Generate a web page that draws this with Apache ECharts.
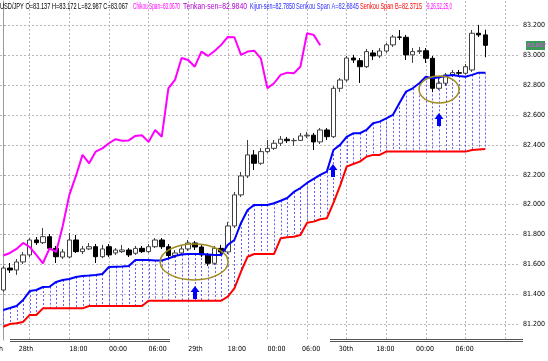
<!DOCTYPE html>
<html><head><meta charset="utf-8">
<script src="https://cdn.jsdelivr.net/npm/echarts@6/dist/echarts.min.js"></script>
<style>html,body{margin:0;padding:0;background:#fff;overflow:hidden}#c{width:548px;height:361px}</style>
</head><body><div id="c"></div>
<script>
// ---- data (USD/JPY, hourly) ----
const opens  = [81.428,81.575,81.562,81.616,81.663,81.763,81.745,81.785,81.707,81.649,81.649,81.763,81.685,81.703,81.718,81.651,81.718,81.676,81.685,81.696,81.674,81.707,81.685,81.718,81.763,81.718,81.659,81.676,81.703,81.743,81.716,81.663,81.607,81.707,81.683,81.857,82.065,82.192,82.333,82.277,82.355,82.377,82.411,82.438,82.428,82.430,82.460,82.465,82.420,82.500,82.455,82.779,82.835,82.982,82.964,82.924,83.016,82.996,83.029,83.070,83.123,83.121,83.003,83.025,83.031,82.980,82.779,82.813,82.869,82.884,82.880,82.902,83.148,83.137];
const closes = [81.575,81.562,81.616,81.663,81.763,81.745,81.785,81.707,81.651,81.683,81.763,81.685,81.703,81.718,81.651,81.703,81.663,81.696,81.696,81.663,81.707,81.685,81.718,81.763,81.718,81.659,81.676,81.703,81.743,81.716,81.663,81.607,81.707,81.683,81.857,82.065,82.192,82.333,82.277,82.355,82.377,82.411,82.438,82.428,82.430,82.460,82.465,82.420,82.500,82.455,82.779,82.835,82.982,82.969,82.924,83.025,82.996,83.029,83.070,83.123,83.121,83.003,83.025,83.031,82.980,82.779,82.813,82.869,82.884,82.880,82.924,83.148,83.137,83.067];
const highs  = [81.589,81.609,81.636,81.683,81.776,81.783,81.843,81.803,81.723,81.703,81.810,81.797,81.723,81.743,81.736,81.730,81.736,81.709,81.730,81.709,81.723,81.723,81.736,81.776,81.776,81.736,81.696,81.730,81.763,81.756,81.730,81.676,81.723,81.730,81.884,82.085,82.219,82.433,82.366,82.379,82.433,82.433,82.460,82.453,82.446,82.480,82.487,82.480,82.513,82.513,82.795,82.848,82.996,83.003,82.982,83.043,83.036,83.049,83.083,83.137,83.170,83.137,83.049,83.056,83.049,82.996,82.848,82.882,82.902,82.902,82.942,83.170,83.204,83.172];
const lows   = [81.415,81.542,81.529,81.602,81.649,81.730,81.736,81.696,81.609,81.636,81.642,81.676,81.669,81.696,81.609,81.642,81.649,81.663,81.676,81.649,81.663,81.676,81.676,81.709,81.703,81.642,81.642,81.663,81.689,81.696,81.649,81.589,81.596,81.669,81.669,81.843,82.051,82.178,82.232,82.266,82.346,82.366,82.393,82.413,82.393,82.426,82.446,82.366,82.406,82.433,82.446,82.755,82.822,82.949,82.815,82.915,82.969,82.982,83.016,83.056,83.103,82.969,82.949,83.009,82.949,82.755,82.768,82.795,82.855,82.862,82.869,82.889,83.123,82.987];
const senkouA = [81.294,81.307,81.321,81.361,81.421,81.428,81.448,81.450,81.482,81.495,81.502,81.515,81.522,81.525,81.529,81.535,81.582,81.584,81.585,81.589,81.629,81.629,81.629,81.626,81.626,81.639,81.656,81.666,81.669,81.669,81.669,81.666,81.663,81.663,81.730,81.763,81.877,81.964,81.998,81.998,81.998,82.009,82.026,82.044,82.085,82.111,82.145,82.172,82.199,82.221,82.366,82.400,82.453,82.478,82.478,82.500,82.545,82.556,82.578,82.601,82.681,82.757,82.779,82.813,82.857,82.846,82.853,82.862,82.869,82.862,82.857,82.869,82.884,82.884];
const senkouB = [81.182,81.200,81.205,81.214,81.261,81.261,81.305,81.305,81.305,81.305,81.305,81.305,81.305,81.321,81.321,81.321,81.321,81.321,81.321,81.321,81.321,81.321,81.356,81.356,81.356,81.356,81.356,81.356,81.356,81.356,81.356,81.356,81.356,81.356,81.383,81.439,81.551,81.651,81.669,81.669,81.669,81.669,81.774,81.781,81.785,81.797,81.879,81.886,81.902,81.908,82.011,82.125,82.254,82.272,82.288,82.321,82.333,82.333,82.355,82.355,82.355,82.355,82.355,82.355,82.355,82.355,82.355,82.355,82.355,82.355,82.355,82.366,82.369,82.372];
const chikou = [81.659,81.676,81.703,81.743,81.716,81.663,81.607,81.707,81.683,81.857,82.065,82.192,82.333,82.277,82.355,82.377,82.411,82.438,82.428,82.430,82.460,82.465,82.420,82.500,82.455,82.779,82.835,82.982,82.969,82.924,83.025,82.996,83.029,83.070,83.123,83.121,83.003,83.025,83.031,82.980,82.779,82.813,82.869,82.884,82.880,82.924,83.148,83.137,83.067];
const yTicks = [81.2,81.4,81.6,81.8,82.0,82.2,82.4,82.6,82.8,83.0,83.2];
const xLabelPos  = [2.35,10,16,22,28,34,40,45.25,50.8,56.5,62.5,68.5];
const xLabelText = ['28th','18:00','00:00','06:00','29th','18:00','00:00','06:00','30th','18:00','00:00','06:00'];
const xGridPos = [4,10,16,22,28,34,40,46,52,58,64,70,76];
const ellipseCenters = [[28.9,81.616],[66,82.771]];
const arrowTips = [[29,81.455],[50,82.272],[66,82.614]];
const headerParts = [
  ['USD/JPY O=83.137 H=83.172 L=82.987 C=83.067','#000000'],
  ['Chikou Span=83.0670','#ff00ff'],
  ['Tenkan-sen=82.9840','#b000d0'],
  ['Kijun-sen=82.7850','#2020ff'],
  ['Senkou Span A=82.8845','#3030ff'],
  ['Senkou Span B=82.3715','#ff0000'],
  ['9,26,52,25,0','#ff00ff']
];

// ---- layout constants ----
const headerBoxes = [[0,128],[133,180],[183,247],[250,295],[296,359],[360,422],[427,452]];
const ellipseRadii = [[34,18],[20,13.5]];

const chart = echarts.init(document.getElementById('c'), null, {renderer:'canvas'});
const N = closes.length;
const candleData = opens.map((o,i)=>[i,o,closes[i],lows[i],highs[i]]);
const cloudData = senkouA.map((a,i)=>[i,a,senkouB[i]]);
const pair = arr => arr.map((v,i)=>[i,v]);
const LABEL_FONT = '"Liberation Sans Narrow","DejaVu Sans Condensed","Liberation Sans",sans-serif';

chart.setOption({
  animation:false,
  backgroundColor:'#ffffff',
  grid:{left:0,right:23,top:1,bottom:21,containLabel:false},
  xAxis:{type:'value',min:-0.5,max:78.25,
    axisLine:{show:false},
    axisTick:{show:false,customValues:xGridPos},
    splitLine:{show:true,lineStyle:{color:'#bdb5bd',type:[2,2],width:1}},
    axisLabel:{customValues:xLabelPos,align:'left',margin:6,fontSize:7,color:'#000',fontFamily:LABEL_FONT,
      formatter:(v)=>{const k=xLabelPos.findIndex(p=>Math.abs(p-v)<1e-6);return k>=0?xLabelText[k]:'';}}
  },
  yAxis:{type:'value',position:'right',min:81.093,max:83.364,scale:true,
    axisLine:{show:true,lineStyle:{color:'#9a9a9a',width:1}},
    axisTick:{show:true,length:2,customValues:yTicks,lineStyle:{color:'#9a9a9a'}},
    splitLine:{show:true,lineStyle:{color:'#bdb5bd',type:[2,2],width:1}},
    axisLabel:{customValues:yTicks,margin:3,fontSize:7,color:'#000',fontFamily:LABEL_FONT,
      formatter:v=>v.toFixed(3)}
  },
  series:[
    {type:'custom',name:'cloud',data:cloudData,z:1,silent:true,
      renderItem:(params,api)=>{
        const i=api.value(0);
        const a=api.coord([i,api.value(1)]);
        const b=api.coord([i,api.value(2)]);
        const x=Math.round(a[0])+0.5;
        return {type:'line',shape:{x1:x,y1:a[1],x2:x,y2:b[1]},style:{stroke:'#6a5cff',lineWidth:1,lineDash:[2,2]}};
      }},
    {type:'candlestick',name:'USDJPY',data:candleData,barWidth:5,z:2,
      itemStyle:{color:'#ffffff',color0:'#000000',borderColor:'#404040',borderColor0:'#000000',borderWidth:1}},
    {type:'line',name:'Senkou Span B',data:pair(senkouB),showSymbol:false,z:3,lineStyle:{color:'#ff0000',width:2}},
    {type:'line',name:'Senkou Span A',data:pair(senkouA),showSymbol:false,z:3,lineStyle:{color:'#0000ff',width:2}},
    {type:'line',name:'Chikou Span',data:pair(chikou),showSymbol:false,z:4,lineStyle:{color:'#ff00ff',width:2}},
    {type:'custom',name:'ellipses',data:ellipseCenters,z:5,silent:true,
      renderItem:(params,api)=>{
        const c=api.coord([api.value(0),api.value(1)]);
        const r=ellipseRadii[params.dataIndex];
        return {type:'ellipse',shape:{cx:c[0],cy:c[1],rx:r[0],ry:r[1]},style:{fill:null,stroke:'#a08c1e',lineWidth:1.5}};
      }},
    {type:'custom',name:'arrows',data:arrowTips,z:5,silent:true,
      renderItem:(params,api)=>{
        const c=api.coord([api.value(0),api.value(1)]);
        const x=Math.round(c[0]), y=c[1];
        return {type:'polygon',shape:{points:[[x,y],[x+4.5,y+6],[x+2,y+6],[x+2,y+13],[x-2,y+13],[x-2,y+6],[x-4.5,y+6]]},style:{fill:'#0000ff'}};
      }}
  ]
});

// ---- header texts & price tag ----
const ctx = document.createElement('canvas').getContext('2d');
const HSIZE = 9, HFAM = 'Liberation Sans';
ctx.font = HSIZE + 'px ' + HFAM;
const graphics = [];
headerParts.forEach((p,k)=>{
  const w = ctx.measureText(p[0]).width;
  const [x0,x1] = headerBoxes[k];
  graphics.push({type:'text',x:x0,y:2,scaleX:(x1-x0)/w,scaleY:1,z:20,
    style:{text:p[0],fill:p[1],fontSize:HSIZE,fontFamily:HFAM,verticalAlign:'top',align:'left'}});
});
graphics.push({type:'text',x:3,y:346,z:20,style:{text:'27th',fill:'#000',fontSize:7,fontFamily:LABEL_FONT,align:'right',verticalAlign:'top'}});
const py = chart.convertToPixel({yAxisIndex:0}, closes[N-1]);
graphics.push({type:'rect',shape:{x:526,y:Math.round(py)-4,width:19,height:9},style:{fill:'#3c9a5a'},z:20});
graphics.push({type:'text',x:527,y:Math.round(py)-3.5,z:21,style:{text:closes[N-1].toFixed(3),fill:'#ff40ff',fontSize:7,fontFamily:'Liberation Sans Narrow',verticalAlign:'top'}});
// bottom double rules
[[10,170],[330,523]].forEach(([a,b])=>{
  graphics.push({type:'line',shape:{x1:a,y1:339.5,x2:b,y2:339.5},style:{stroke:'#555',lineWidth:1},z:20});
  graphics.push({type:'line',shape:{x1:a,y1:341.5,x2:b,y2:341.5},style:{stroke:'#555',lineWidth:1},z:20});
});
chart.setOption({graphic:graphics});
</script>
</body></html>
